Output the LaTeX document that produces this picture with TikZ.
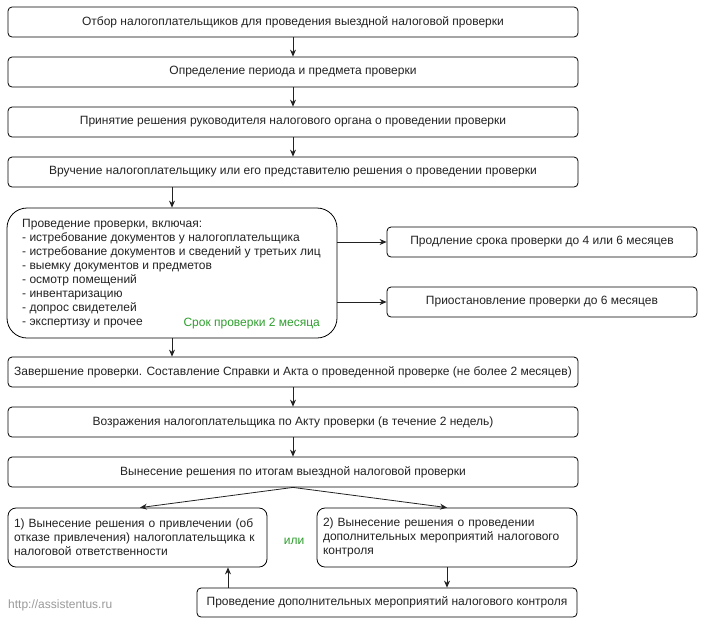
\documentclass[tikz,border=0pt]{standalone}
\usepackage{fontspec}
\setmainfont{Liberation Sans}
\usetikzlibrary{arrows.meta}
\definecolor{txt}{HTML}{222222}
\definecolor{ln}{HTML}{222222}
\definecolor{grn}{HTML}{2E9E2E}
\begin{document}
\begin{tikzpicture}[x=1pt,y=-1pt,
  every node/.style={font=\fontsize{12}{14}\selectfont, text=txt},
  box/.style={draw=black, line width=0.8pt, rounded corners=4pt, minimum height=30pt, inner sep=0pt},
  wide/.style={box, minimum width=570pt},
  arr/.style={draw=ln, line width=0.8pt, -{Stealth[length=7pt,width=6pt]}}]
\useasboundingbox (0,0) rectangle (706,625);
\node[wide] (b1) at (293,22) {Отбор налогоплательщиков для проведения выездной налоговой проверки};
\node[wide] (b2) at (293,72) {Определение периода и предмета проверки};
\node[wide] (b3) at (293,122) {Принятие решения руководителя налогового органа о проведении проверки};
\node[wide] (b4) at (293,172) {Вручение налогоплательщику или его представителю решения о проведении проверки};
\node[box, rounded corners=20pt, minimum width=330pt, minimum height=130pt] (big) at (172,273) {};
\node[anchor=north west, inner sep=0pt, align=left] (bigtext) at (22,219)
 {Проведение проверки, включая:\\
 - истребование документов у налогоплательщика\\
 - истребование документов и сведений у третьих лиц\\
 - выемку документов и предметов\\
 - осмотр помещений\\
 - инвентаризацию\\
 - допрос свидетелей\\
 - экспертизу и прочее};
\node[anchor=base east, text=grn, inner sep=0pt] (term) at (320,326) {Срок проверки 2 месяца};
\node[box, minimum width=310pt] (r1) at (542,242) {Продление срока проверки до 4 или 6 месяцев};
\node[box, minimum width=310pt] (r2) at (542,302) {Приостановление проверки до 6 месяцев};
\node[wide] (b5) at (293,372) {Завершение проверки. Составление Справки и Акта о проведенной проверке (не более 2 месяцев)};
\node[wide] (b6) at (293,422) {Возражения налогоплательщика по Акту проверки (в течение 2 недель)};
\node[wide] (b7) at (293,472) {Вынесение решения по итогам выездной налоговой проверки};
\node[box, rounded corners=8pt, minimum width=259pt, minimum height=59pt, text width=247pt, inner xsep=6pt, align=left] (L) at (137.5,537.5)
 {1) Вынесение решения о привлечении (об\\ отказе привлечения) налогоплательщика к\\ налоговой ответственности};
\node[box, rounded corners=8pt, minimum width=260pt, minimum height=59pt, text width=248pt, inner xsep=6pt, align=left] (R) at (447,537.5)
 {2) Вынесение решения о проведении\\ дополнительных мероприятий налогового\\ контроля};
\node[text=grn] (ili) at (294,541) {или};
\node[box, minimum width=380pt, minimum height=29pt] (B) at (387,602.5) {Проведение дополнительных мероприятий налогового контроля};
\node[anchor=west, text=gray!80, inner sep=0pt] (url) at (8,605) {http://assistentus.ru};
\draw[arr] (b1) -- (b2);
\draw[arr] (b2) -- (b3);
\draw[arr] (b3) -- (b4);
\draw[arr] (b4.south -| big.north) -- (big.north);
\draw[arr] (big.south) -- (big.south |- b5.north);
\draw[arr] (big.east |- r1.west) -- (r1.west);
\draw[arr] (big.east |- r2.west) -- (r2.west);
\draw[arr] (b5) -- (b6);
\draw[arr] (b6) -- (b7);
\draw[arr] (b7.south) -- ([xshift=2.5pt]L.north);
\draw[arr] (b7.south) -- (R.north);
\draw[arr] (R.south) -- (R.south |- B.north);
\coordinate (lb) at (228,588);
\draw[arr] (lb) -- (lb |- L.south);
\end{tikzpicture}
\end{document}
